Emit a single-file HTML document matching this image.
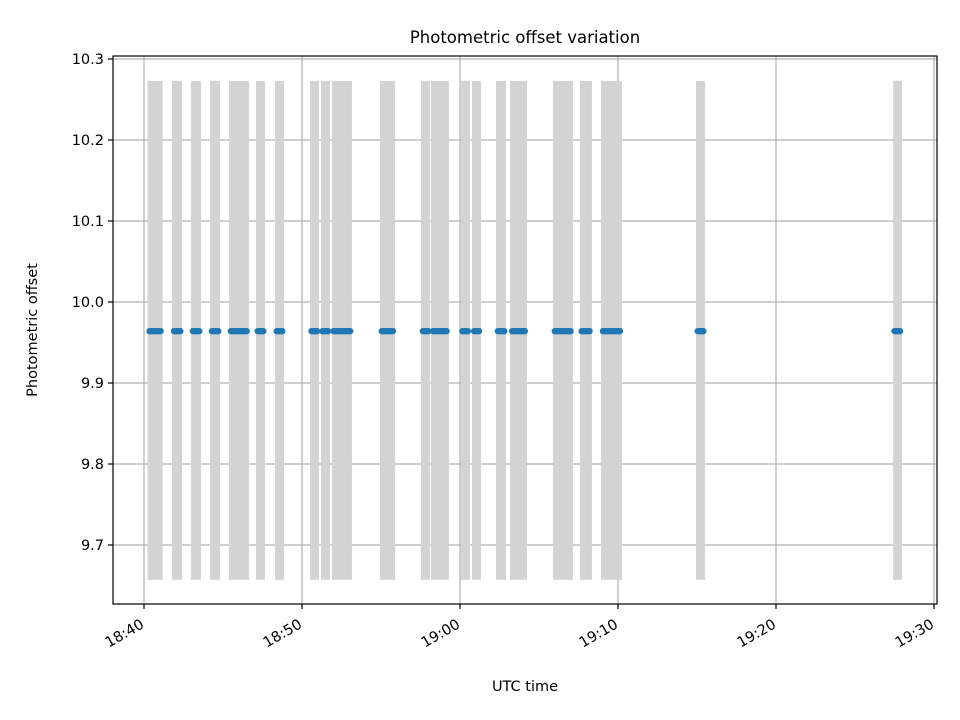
<!DOCTYPE html>
<html><head><meta charset="utf-8"><title>Photometric offset variation</title>
<style>
html,body{margin:0;padding:0;background:#fff;}
svg{display:block;font-family:"DejaVu Sans","Liberation Sans",sans-serif;}
</style></head>
<body>
<svg id="chart" width="960" height="720" viewBox="0 0 960 720">
  <rect x="0" y="0" width="960" height="720" fill="#fff"/>
  <text x="525" y="43" font-size="16.5" text-anchor="middle" fill="#000">Photometric offset variation</text>
  <g id="grid"></g>
  <g id="bars"></g>
  <g id="points"></g>
  <rect x="113" y="56" width="824" height="548" fill="none" stroke="#000" stroke-width="1.2"/>
  <g id="xticks"></g>
  <g id="yticks"></g>
  <text x="525" y="691" font-size="14.5" text-anchor="middle">UTC time</text>
  <text x="0" y="0" font-size="14.5" text-anchor="middle" transform="translate(37,330) rotate(-90)">Photometric offset</text>
</svg>
<script>
// minutes after 18:40 UTC
const barStart = [0.23,1.77,2.97,4.18,5.38,7.09,8.29,10.51,11.20,11.90,14.94,17.53,18.16,20.06,20.76,22.28,23.16,25.89,27.59,28.92,34.94,47.41];
const barEnd   = [1.18,2.41,3.61,4.81,6.65,7.66,8.86,11.08,11.77,13.16,15.89,18.10,19.30,20.63,21.33,22.91,24.24,27.15,28.35,30.25,35.51,47.97];
const barLow = 9.657;
const barHigh = 10.273;
const pointTimes = [0.35,0.45,0.55,0.65,0.75,0.85,0.95,1.05, 1.9,2.0,2.1,2.2,2.3, 3.1,3.2,3.3,3.4,3.5, 4.3,4.4,4.5,4.6,4.7,
  5.5,5.6,5.7,5.8,5.9,6.0,6.1,6.2,6.3,6.4,6.5, 7.2,7.3,7.4,7.5,7.55, 8.4,8.5,8.6,8.7,8.75,
  10.6,10.7,10.8,10.9,10.95, 11.3,11.4,11.5,11.6,11.65, 12.0,12.1,12.2,12.3,12.4,12.5,12.6,12.7,12.8,12.9,13.0,13.05,
  15.05,15.15,15.25,15.35,15.45,15.55,15.65,15.75, 17.65,17.75,17.85,17.95,18.0, 18.3,18.4,18.5,18.6,18.7,18.8,18.9,19.0,19.1,19.15,
  20.15,20.25,20.35,20.45,20.5, 20.9,21.0,21.1,21.2, 22.4,22.5,22.6,22.7,22.8, 23.3,23.4,23.5,23.6,23.7,23.8,23.9,24.0,24.1,
  26.0,26.1,26.2,26.3,26.4,26.5,26.6,26.7,26.8,26.9,27.0, 27.7,27.8,27.9,28.0,28.1,28.2,
  29.05,29.15,29.25,29.35,29.45,29.55,29.65,29.75,29.85,29.95,30.05,30.12, 35.05,35.15,35.25,35.35,35.4, 47.5,47.6,47.7,47.8,47.85];
const pointValue = 9.964;
const xTickMinutes = [0,10,20,30,40,50];
const xTickLabels = ["18:40","18:50","19:00","19:10","19:20","19:30"];
const yTickValues = [9.7,9.8,9.9,10.0,10.1,10.2,10.3];
const yTickLabels = ["9.7","9.8","9.9","10.0","10.1","10.2","10.3"];

const NS = "http://www.w3.org/2000/svg";
const L=113,R=937,T=56,B=604;
function xs(m){return 144 + m*15.8;}
function ys(v){return 302 - (v-10.0)*810;}
function mk(tag, attrs, parent){const e=document.createElementNS(NS,tag);for(const k in attrs)e.setAttribute(k,attrs[k]);parent.appendChild(e);return e;}

const grid=document.getElementById('grid');
xTickMinutes.forEach((m,i)=>{
  const g=mk('line',{x1:xs(m),x2:xs(m),y1:T,y2:B,stroke:'#b0b0b0','stroke-width':1.2},grid);
  
  
});
yTickValues.forEach((v,i)=>{
  const g=mk('line',{x1:L,x2:R,y1:ys(v),y2:ys(v),stroke:'#b0b0b0','stroke-width':1.2},grid);
  
  
});

const bars=document.getElementById('bars');
barStart.forEach((s,i)=>{
  const r=mk('rect',{x:xs(s),y:ys(barHigh),width:xs(barEnd[i])-xs(s),height:ys(barLow)-ys(barHigh),fill:'#d3d3d3'},bars);
  
  
});

const pts=document.getElementById('points');
pointTimes.forEach(t=>{
  const c=mk('circle',{cx:xs(t),cy:ys(pointValue),r:3.2,fill:'#1f77b4'},pts);
  
  
});

const xt=document.getElementById('xticks');
xTickMinutes.forEach((m,i)=>{
  const x=xs(m);
  const tk=mk('line',{x1:x,x2:x,y1:B,y2:B+5,stroke:'#000','stroke-width':1.2},xt);
  
  
  const tx=mk('text',{x:0,y:0,'font-size':14.5,'text-anchor':'end',transform:`translate(${x+1},${B+23}) rotate(-30)`},xt);
  tx.textContent=xTickLabels[i];
  
  
});
const yt=document.getElementById('yticks');
yTickValues.forEach((v,i)=>{
  const y=ys(v);
  const tk=mk('line',{x1:L-5,x2:L,y1:y,y2:y,stroke:'#000','stroke-width':1.2},yt);
  
  
  const tx=mk('text',{x:L-9,y:y+5,'font-size':14.5,'text-anchor':'end'},yt);
  tx.textContent=yTickLabels[i];
  
  
});
</script>
</body></html>
